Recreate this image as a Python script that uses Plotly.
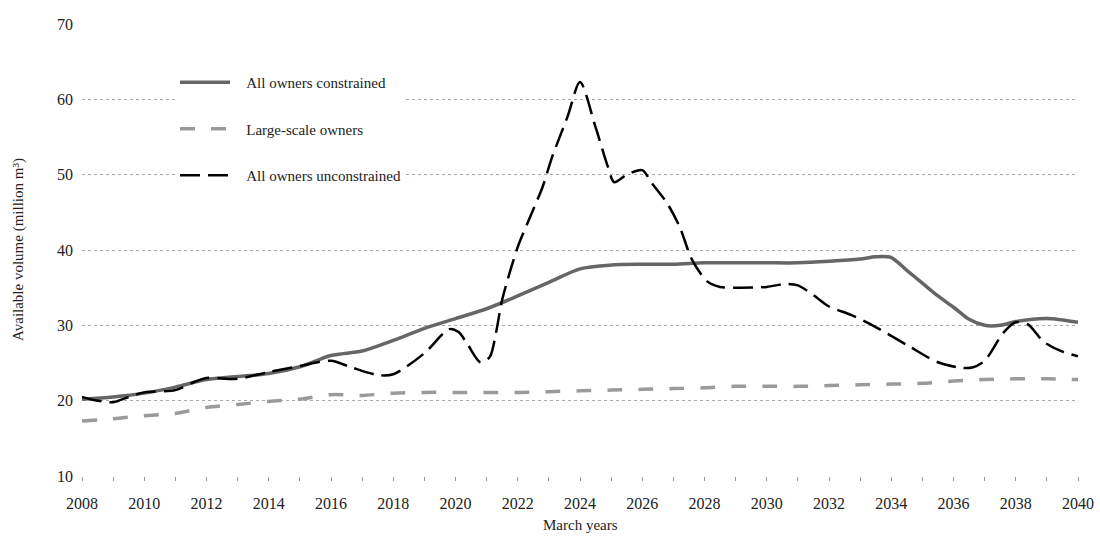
import plotly.graph_objects as go

# Available volume by March year (million m3)
years_constrained = [2008, 2009, 2010, 2011, 2012, 2013, 2014, 2015, 2016, 2017,
                     2018, 2019, 2020, 2021, 2022, 2023, 2024, 2025, 2026, 2027,
                     2028, 2029, 2030, 2031, 2032, 2033, 2033.5, 2034, 2034.5,
                     2035, 2035.5, 2036, 2036.5, 2037, 2037.5, 2038, 2039, 2040]
all_constrained = [20.2, 20.5, 21.0, 21.8, 22.8, 23.2, 23.6, 24.5, 26.0, 26.6,
                   28.0, 29.6, 30.9, 32.2, 33.9, 35.7, 37.5, 38.0, 38.1, 38.1,
                   38.3, 38.3, 38.3, 38.3, 38.5, 38.8, 39.1, 39.0, 37.3,
                   35.6, 33.9, 32.4, 30.8, 30.0, 30.0, 30.5, 30.9, 30.4]

years_large = list(range(2008, 2041))
large_scale = [17.3, 17.6, 18.0, 18.3, 19.1, 19.5, 19.9, 20.2, 20.8, 20.7,
               21.0, 21.1, 21.1, 21.1, 21.1, 21.2, 21.3, 21.4, 21.5, 21.6,
               21.7, 21.9, 21.9, 21.9, 22.0, 22.1, 22.2, 22.3, 22.6, 22.8,
               22.9, 22.9, 22.8]

years_unconstrained = [2008, 2008.5, 2009, 2009.5, 2010, 2011, 2011.5, 2012, 2013,
                       2014, 2015, 2016, 2016.6, 2017.5, 2018, 2019, 2019.8, 2020.1,
                       2020.4, 2020.8, 2021.1, 2021.3, 2021.5, 2022, 2022.4, 2022.8,
                       2023.1, 2023.6, 2024, 2024.5, 2024.9, 2025.1, 2025.5, 2026,
                       2026.3, 2026.8, 2027.2, 2027.6, 2028.1, 2028.5, 2029, 2030,
                       2030.6, 2031, 2031.5, 2032, 2032.7, 2033.4, 2034.5, 2035.5,
                       2036.2, 2036.6, 2037, 2037.6, 2038, 2038.4, 2038.9, 2039.5, 2040]
all_unconstrained = [20.5, 20.0, 19.8, 20.5, 21.1, 21.4, 22.3, 23.0, 22.9,
                     23.8, 24.6, 25.3, 24.5, 23.4, 23.5, 26.3, 29.5, 29.1,
                     27.4, 25.1, 25.8, 29.0, 33.4, 40.4, 44.4, 48.4,
                     52.3, 57.7, 62.3, 56.3, 51.0, 49.0, 50.0, 50.6,
                     48.9, 46.2, 43.1, 38.7, 35.8, 35.1, 35.0, 35.1,
                     35.5, 35.3, 34.0, 32.5, 31.4, 30.0, 27.4, 25.1,
                     24.4, 24.4, 25.3, 29.0, 30.4, 30.1, 27.8, 26.5, 25.9]

x_ticks = list(range(2008, 2041, 2))
y_ticks = [10, 20, 30, 40, 50, 60, 70]

FONT = "Liberation Serif"
TEXT = "#222222"
PAD = "\u00a0\u00a0\u00a0"  # extra space between key line and label

# plot area in pixels
L, R, T, B = 82, 22, 24, 78
W, H = 1100, 554
PW, PH = W - L - R, H - T - B


def px_x(px):
    return (px - L) / PW


def px_y(py):
    return 1 - (py - T) / PH


fig = go.Figure()
fig.add_trace(go.Scatter(
    x=years_constrained, y=all_constrained, mode="lines",
    name=PAD + "All owners constrained", legendgroup="a",
    line=dict(color="#666666", width=3.5, shape="spline", smoothing=0.8),
))
fig.add_trace(go.Scatter(
    x=years_large, y=large_scale, mode="lines",
    name=PAD + "Large-scale owners", legendgroup="b",
    line=dict(color="#9a9a9a", width=3.5, dash="15px,16px", shape="spline", smoothing=0.8),
))
fig.add_trace(go.Scatter(
    x=years_unconstrained, y=all_unconstrained, mode="lines",
    name=PAD + "All owners unconstrained", legendgroup="c",
    line=dict(color="#000000", width=2.5, dash="20px,8px", shape="spline", smoothing=0.8),
))

fig.update_layout(
    width=W, height=H,
    margin=dict(l=L, r=R, t=T, b=B, autoexpand=False),
    paper_bgcolor="white", plot_bgcolor="white",
    font=dict(family=FONT, size=15, color=TEXT),
    showlegend=True,
    legend=dict(
        x=px_x(175), y=0.907, xanchor="left", yanchor="top",
        bgcolor="white", borderwidth=0,
        font=dict(family=FONT, size=15, color=TEXT),
        tracegroupgap=24, itemwidth=50,
    ),
    xaxis=dict(
        range=[2008, 2040], tickvals=x_ticks, showgrid=False, zeroline=False,
        showline=False, ticks="outside", ticklen=4, tickcolor="#999999",
        tickwidth=1, ticklabelstandoff=9, automargin=False,
        minor=dict(dtick=1, tick0=2008, ticks="outside", ticklen=4,
                   tickcolor="#999999", showgrid=False),
        tickfont=dict(family=FONT, size=16, color=TEXT),
    ),
    yaxis=dict(
        range=[10, 70], tickvals=y_ticks, showgrid=True, gridcolor="#aaaaaa",
        griddash="dot", gridwidth=1, zeroline=False, showline=False,
        ticks="", ticklabelstandoff=8, automargin=False,
        tickfont=dict(family=FONT, size=16, color=TEXT),
    ),
    shapes=[
        # blank panel behind the key, hiding the grid there
        dict(type="rect", xref="paper", yref="paper", layer="between",
             x0=px_x(160), x1=px_x(443), y0=px_y(200), y1=px_y(45),
             fillcolor="white", line=dict(width=0)),
    ],
    annotations=[
        dict(text="March years", x=0.5, y=-(515 - (T + PH)) / PH,
             xref="paper", yref="paper", xanchor="center", yanchor="top",
             showarrow=False, font=dict(family=FONT, size=15, color=TEXT)),
        dict(text="Available volume (million m³)", x=px_x(18), y=0.5,
             xref="paper", yref="paper", xanchor="center", yanchor="middle",
             textangle=-90, showarrow=False,
             font=dict(family=FONT, size=15, color=TEXT)),
    ],
)

fig.write_html("out.html")
